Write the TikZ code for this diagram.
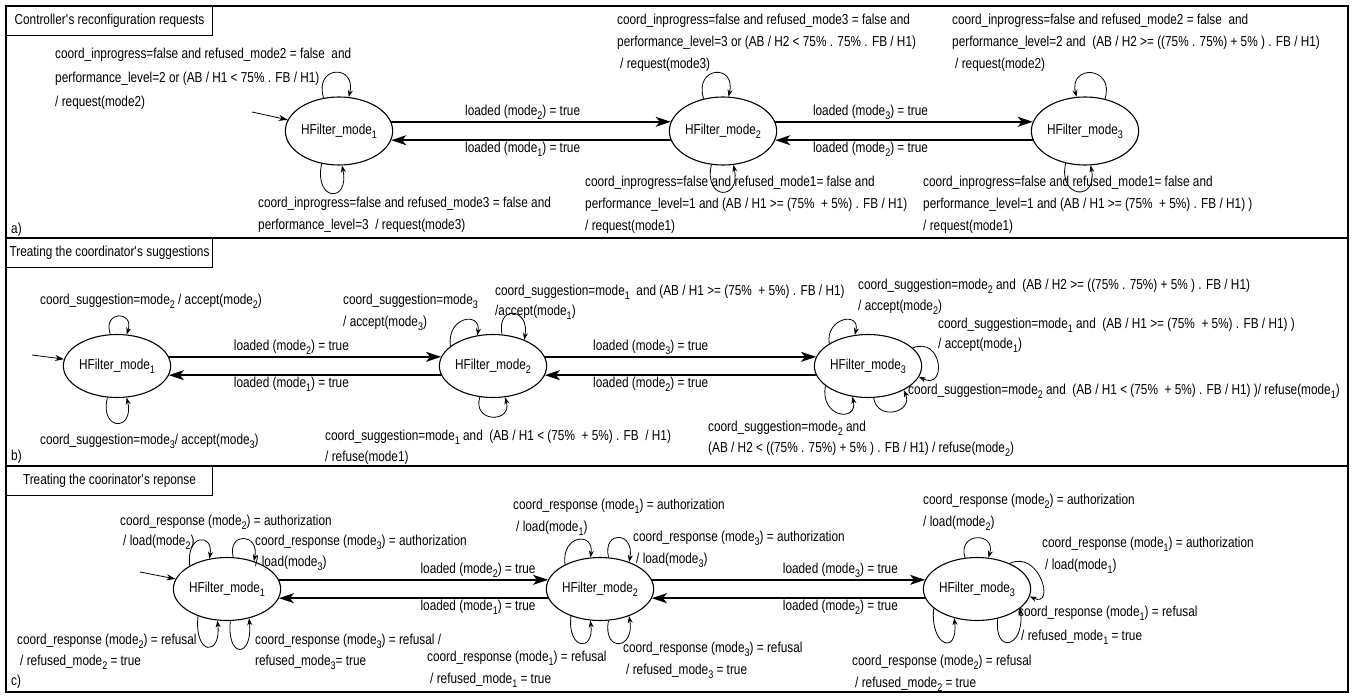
\documentclass[tikz,border=0pt]{standalone}
\usepackage{fontspec}
\setmainfont{Liberation Sans}[FakeStretch=0.82]
\usetikzlibrary{arrows.meta,shapes.geometric,calc}
\newcommand\lblfont{\fontsize{14.4}{22}\selectfont}
\newcommand\sbn[1]{\raisebox{-0.28em}{\fontsize{11}{11}\selectfont #1}}
\newcommand\ind{\hspace*{3pt}}
\begin{document}
\begin{tikzpicture}[x=1pt,y=-1pt,
  st/.style={ellipse,draw,line width=1.1pt,inner sep=0pt,font=\lblfont},
  sta/.style={st,minimum width=97pt,minimum height=68pt},
  stb/.style={st,minimum width=92pt,minimum height=63pt},
  stc/.style={st,minimum width=95pt,minimum height=63pt},
  tr/.style={line width=1.6pt,-{Stealth[length=15pt,width=10pt,inset=4pt]}},
  lp/.style={line width=0.8pt,-{Stealth[length=7pt,width=5pt]}},
  ini/.style={line width=0.8pt,-{Stealth[length=9pt,width=6pt]}},
  lbl/.style={anchor=north west,inner sep=0pt,align=left,font=\lblfont},
  tl/.style={font=\lblfont,inner sep=1.5pt},
  ttl/.style={draw,line width=1pt,anchor=north west,minimum width=206pt,minimum height=29pt,inner sep=0pt,font=\lblfont},
  panel/.style={draw,line width=1.4pt}]
\useasboundingbox (0,0) rectangle (1354,696);
% panels
\draw[panel] (6,6) rectangle (1348,238);
\draw[panel] (6,238) rectangle (1348,466);
\draw[panel] (6,466) rectangle (1348,692);
\node[ttl] (ta) at (6,6) {Controller\textquotesingle s reconfiguration requests};
\node[ttl] (tb) at (6,238) {Treating the coordinator\textquotesingle s suggestions};
\node[ttl] (tc) at (6,466) {Treating the coorinator\textquotesingle s reponse};
\node[lbl,anchor=west] (pa) at (11,230) {a)};
\node[lbl,anchor=west] (pb) at (11,457) {b)};
\node[lbl,anchor=west] (pc) at (11,682) {c)};

% ===== panel a =====
\node[sta] (a1) at (339,131) {HFilter\_mode\sbn{1}};
\node[sta] (a2) at (723,131) {HFilter\_mode\sbn{2}};
\node[sta] (a3) at (1085,131) {HFilter\_mode\sbn{3}};
\coordinate (ia) at (252,112);
\draw[ini] (ia) -- (a1);
\draw[tr] (a1.10) -- node[tl,above,pos=.47]{loaded (mode\sbn{2}) = true} (a2.170);
\draw[tr] (a2.190) -- node[tl,below,pos=.53]{loaded (mode\sbn{1}) = true} (a1.350);
\draw[tr] (a2.10) -- node[tl,above,pos=.37]{loaded (mode\sbn{3}) = true} (a3.170);
\draw[tr] (a3.190) -- node[tl,below,pos=.63]{loaded (mode\sbn{2}) = true} (a2.350);
\draw[lp] (a1.115) .. controls +(-10,-33) and +(8,-33) .. (a1.74);
\draw[lp] (a1.242) .. controls +(-8,38) and +(8,38) .. (a1.275);
\draw[lp] (a2.121) .. controls +(-10,-33) and +(8,-33) .. (a2.81);
\draw[lp] (a2.251) .. controls +(-8,36) and +(8,36) .. (a2.287);
\draw[lp] (a3.58) .. controls +(10,-33) and +(-8,-33) .. (a3.104);
\draw[lp] (a3.239) .. controls +(-8,36) and +(8,36) .. (a3.279);
\node[lbl,font=\fontsize{14.4}{24}\selectfont] (la1) at (55,48) {coord\_inprogress=false and refused\_mode2 = false\ \ and\\performance\_level=2 or (AB / H1 < 75\% . FB / H1)\\/ request(mode2)};
\node[lbl] (la2) at (258,197) {coord\_inprogress=false and refused\_mode3 = false and\\performance\_level=3\ \ / request(mode3)};
\node[lbl] (la3) at (617,14) {coord\_inprogress=false and refused\_mode3 = false and\\performance\_level=3 or (AB / H2 < 75\% . 75\% . FB / H1)\\\ind/ request(mode3)};
\node[lbl] (la4) at (585,176) {coord\_inprogress=false and refused\_mode1= false and\\performance\_level=1 and (AB / H1 >= (75\%\ \ + 5\%) . FB / H1)\\/ request(mode1)};
\node[lbl] (la5) at (952,14) {coord\_inprogress=false and refused\_mode2 = false\ \ and\\performance\_level=2 and\ \ (AB / H2 >= ((75\% . 75\%) + 5\% ) . FB / H1)\\\ind/ request(mode2)};
\node[lbl] (la6) at (923,176) {coord\_inprogress=false and refused\_mode1= false and\\performance\_level=1 and (AB / H1 >= (75\%\ \ + 5\%) . FB / H1) )\\/ request(mode1)};

% ===== panel b =====
\node[stb] (b1) at (117,366) {HFilter\_mode\sbn{1}};
\node[stb] (b2) at (493,366) {HFilter\_mode\sbn{2}};
\node[stb] (b3) at (868,366) {HFilter\_mode\sbn{3}};
\coordinate (ib) at (32,355);
\draw[ini] (ib) -- (b1);
\draw[tr] (b1.10) -- node[tl,above,pos=.45]{loaded (mode\sbn{2}) = true} (b2.170);
\draw[tr] (b2.190) -- node[tl,below,pos=.55]{loaded (mode\sbn{1}) = true} (b1.350);
\draw[tr] (b2.10) -- node[tl,above,pos=.39]{loaded (mode\sbn{3}) = true} (b3.170);
\draw[tr] (b3.190) -- node[tl,below,pos=.61]{loaded (mode\sbn{2}) = true} (b2.350);
\draw[lp] (b1.102) .. controls +(-8,-24) and +(8,-24) .. (b1.73);
\draw[lp] (b1.253) .. controls +(-8,34) and +(8,34) .. (b1.287);
\draw[lp] (b2.155) .. controls +(-4,-30) and +(4,-24) .. (b2.117);
\draw[lp] (b2.74) .. controls +(-6,-30) and +(6,-32) .. (b2.40);
\draw[lp] (b2.247) .. controls +(-8,26) and +(8,26) .. (b2.291);
\draw[lp] (b3.150) .. controls +(-4,-26) and +(6,-24) .. (b3.113);
\draw[lp] (b3.22) .. controls +(30,-12) and +(28,14) .. (b3.-12);
\draw[lp] (b3.205) .. controls +(-6,32) and +(6,26) .. (b3.243);
\draw[lp] (b3.280) .. controls +(4,24) and +(10,22) .. (b3.326);
\node[lbl] (lb1) at (40,294) {coord\_suggestion=mode\sbn{2} / accept(mode\sbn{2})};
\node[lbl] (lb2) at (40,434) {coord\_suggestion=mode\sbn{3}/ accept(mode\sbn{3})};
\node[lbl] (lb3) at (343,294) {coord\_suggestion=mode\sbn{3}\\/ accept(mode\sbn{3})};
\node[lbl,font=\fontsize{14.4}{20}\selectfont] (lb4) at (495,285) {coord\_suggestion=mode\sbn{1}\ \ and (AB / H1 >= (75\%\ \ + 5\%) . FB / H1)\\/accept(mode\sbn{1})};
\node[lbl,font=\fontsize{14.4}{21}\selectfont] (lb5) at (325,430) {coord\_suggestion=mode\sbn{1} and\ \ (AB / H1 < (75\%\ \ + 5\%) . FB\ \ / H1)\\/ refuse(mode1)};
\node[lbl,font=\fontsize{14.4}{21}\selectfont] (lb6) at (858,279) {coord\_suggestion=mode\sbn{2} and\ \ (AB / H2 >= ((75\% . 75\%) + 5\% ) . FB / H1)\\/ accept(mode\sbn{2})};
\node[lbl,font=\fontsize{14.4}{20}\selectfont] (lb7) at (938,318) {coord\_suggestion=mode\sbn{1} and\ \ (AB / H1 >= (75\%\ \ + 5\%) . FB / H1) )\\/ accept(mode\sbn{1})};
\node[lbl] (lb8) at (908,384) {coord\_suggestion=mode\sbn{2} and\ \ (AB / H1 < (75\%\ \ + 5\%) . FB / H1) )/ refuse(mode\sbn{1})};
\node[lbl,font=\fontsize{14.4}{21}\selectfont] (lb9) at (708,421) {coord\_suggestion=mode\sbn{2} and\\(AB / H2 < ((75\% . 75\%) + 5\% ) . FB / H1) / refuse(mode\sbn{2})};

% ===== panel c =====
\node[stc] (c1) at (227,589) {HFilter\_mode\sbn{1}};
\node[stc] (c2) at (600,589) {HFilter\_mode\sbn{2}};
\node[stc] (c3) at (977,589) {HFilter\_mode\sbn{3}};
\coordinate (ic) at (140,572);
\draw[ini] (ic) -- (c1);
\draw[tr] (c1.10) -- node[tl,above,pos=.74]{loaded (mode\sbn{2}) = true} (c2.170);
\draw[tr] (c2.190) -- node[tl,below,pos=.26]{loaded (mode\sbn{1}) = true} (c1.350);
\draw[tr] (c2.10) -- node[tl,above,pos=.69]{loaded (mode\sbn{3}) = true} (c3.170);
\draw[tr] (c3.190) -- node[tl,below,pos=.31]{loaded (mode\sbn{2}) = true} (c2.350);
\draw[lp] (c1.148) .. controls +(-4,-32) and +(4,-26) .. (c1.120);
\draw[lp] (c1.79) .. controls +(-6,-26) and +(6,-28) .. (c1.46);
\draw[lp] (c1.223) .. controls +(-4,40) and +(4,36) .. (c1.253);
\draw[lp] (c1.276) .. controls +(-4,38) and +(4,40) .. (c1.307);
\draw[lp] (c2.145) .. controls +(-4,-30) and +(4,-26) .. (c2.107);
\draw[lp] (c2.75) .. controls +(-6,-28) and +(6,-30) .. (c2.43);
\draw[lp] (c2.223) .. controls +(-4,34) and +(4,32) .. (c2.253);
\draw[lp] (c2.285) .. controls +(-6,32) and +(6,34) .. (c2.317);
\draw[lp] (c3.111) .. controls +(-8,-26) and +(8,-26) .. (c3.70);
\draw[lp] (c3.38) .. controls +(30,-14) and +(26,12) .. (c3.-8);
\draw[lp] (c3.305) .. controls +(-4,36) and +(4,40) .. (c3.336);
\draw[lp] (c3.204) .. controls +(-4,38) and +(4,38) .. (c3.232);
\node[lbl,font=\fontsize{14.4}{20}\selectfont] (lc1) at (120,515) {coord\_response (mode\sbn{2}) = authorization\\\ind/ load(mode\sbn{2})};
\node[lbl,font=\fontsize{14.4}{21}\selectfont] (lc2) at (255,535) {coord\_response (mode\sbn{3}) = authorization\\/ load(mode\sbn{3})};
\node[lbl,font=\fontsize{14.4}{21}\selectfont] (lc3) at (17,634) {coord\_response (mode\sbn{2}) = refusal\\\ind/ refused\_mode\sbn{2} = true};
\node[lbl,font=\fontsize{14.4}{21}\selectfont] (lc4) at (255,634) {coord\_response (mode\sbn{3}) = refusal /\\refused\_mode\sbn{3}= true};
\node[lbl] (lc5) at (513,499) {coord\_response (mode\sbn{1}) = authorization\\\ind/ load(mode\sbn{1})};
\node[lbl] (lc6) at (633,531) {coord\_response (mode\sbn{3}) = authorization\\\ind/ load(mode\sbn{3})};
\node[lbl] (lc7) at (427,651) {coord\_response (mode\sbn{1}) = refusal\\\ind/ refused\_mode\sbn{1} = true};
\node[lbl] (lc8) at (623,642) {coord\_response (mode\sbn{3}) = refusal\\\ind/ refused\_mode\sbn{3} = true};
\node[lbl] (lc9) at (923,494) {coord\_response (mode\sbn{2}) = authorization\\/ load(mode\sbn{2})};
\node[lbl] (lc10) at (1042,537) {coord\_response (mode\sbn{1}) = authorization\\\ind/ load(mode\sbn{1})};
\node[lbl,font=\fontsize{14.4}{24}\selectfont] (lc11) at (1018,606) {coord\_response (mode\sbn{1}) = refusal\\\ind/ refused\_mode\sbn{1} = true};
\node[lbl] (lc12) at (852,655) {coord\_response (mode\sbn{2}) = refusal\\\ind/ refused\_mode\sbn{2} = true};
\end{tikzpicture}
\end{document}
